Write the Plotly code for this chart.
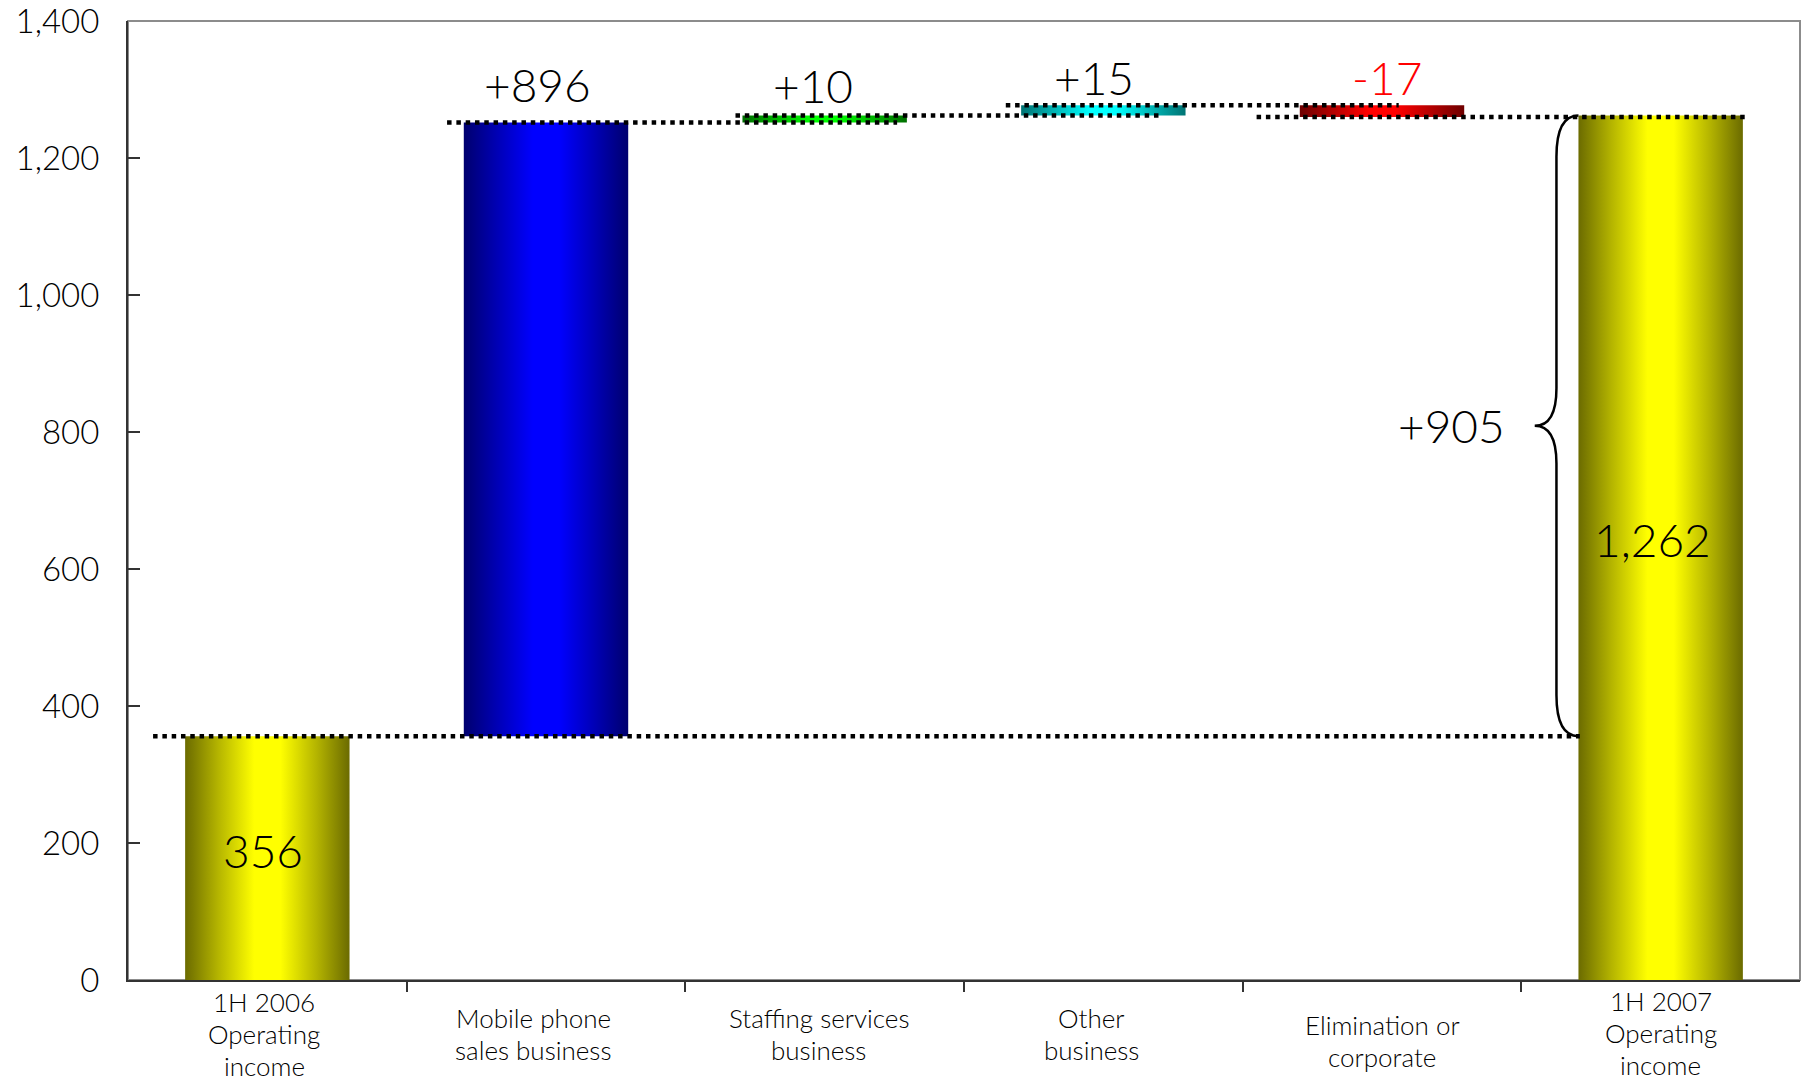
import plotly.graph_objects as go

# ---------------- data ----------------
category_lines = [
    ["1H 2006", "Operating", "income"],
    ["Mobile phone", "sales business"],
    ["Staffing services", "business"],
    ["Other", "business"],
    ["Elimination or", "corporate"],
    ["1H 2007", "Operating", "income"],
]
start_value = 356
deltas = [896, 10, 15, -17]
end_value = 1262
total_change = 905
delta_labels = ["+896", "+10", "+15", "-17"]
delta_label_colors = ["black", "black", "black", "red"]
start_label = "356"
end_label = "1,262"
change_label = "+905"
y_ticks = [0, 200, 400, 600, 800, 1000, 1200, 1400]

# ---------------- styling ----------------
FONT = "Lato, 'Open Sans', sans-serif"
BW = 0.59  # bar width in category units


def grad(dark, light):
    return [[0, dark], [0.2, light[1]], [0.42, light[0]], [0.5, light[0]],
            [0.58, light[0]], [0.8, light[1]], [1, dark]]


scales = [
    grad("#6b6b00", ("#ffff00", "#b4b400")),
    grad("#00006e", ("#0000ff", "#0000b4")),
    grad("#006e00", ("#00ff00", "#00b400")),
    grad("#007373", ("#00ffff", "#00b4b4")),
    grad("#6e0000", ("#ff0000", "#b40000")),
    grad("#6b6b00", ("#ffff00", "#b4b400")),
]

# ---------------- derived bar extents ----------------
bases, tops = [0], [start_value]
levels = [start_value]
cum = start_value
for d in deltas:
    new = cum + d
    bases.append(min(cum, new))
    tops.append(max(cum, new))
    cum = new
    levels.append(cum)
bases.append(0)
tops.append(end_value)

fig = go.Figure()
for i, (b, t) in enumerate(zip(bases, tops)):
    x0, x1 = i - BW / 2, i + BW / 2
    fig.add_trace(go.Scatter(
        x=[x0, x1, x1, x0, x0], y=[b, b, t, t, b],
        mode="lines", line=dict(width=0), fill="toself",
        fillgradient=dict(type="horizontal", colorscale=scales[i]),
        hoverinfo="skip", showlegend=False,
    ))

shapes = []
# plot border (grey)
shapes.append(dict(type="rect", xref="paper", yref="paper", x0=0, x1=1, y0=0, y1=1,
                   line=dict(color="#8c8c8c", width=2), layer="below"))

# dotted connectors
conn_extent = [(-0.41, 4.71), (0.645, 2.26), (1.68, 3.20), (2.65, 4.06), (3.55, 5.31)]
for lvl, (xa, xb) in zip(levels, conn_extent):
    shapes.append(dict(type="line", xref="x", yref="y", x0=xa, x1=xb, y0=lvl, y1=lvl,
                       line=dict(color="black", width=4.5, dash="4.5px,4.8px"), layer="above"))

# brace
xe = 5 - BW / 2
xm = xe - 0.079
xt = xe - 0.157
top, bot = end_value, start_value
mid = (top + bot) / 2
path = (f"M {xe},{top} Q {xm},{top} {xm},{top-60} L {xm},{mid+55} "
        f"Q {xm},{mid} {xt},{mid} Q {xm},{mid} {xm},{mid-55} "
        f"L {xm},{bot+60} Q {xm},{bot} {xe},{bot}")
shapes.append(dict(type="path", xref="x", yref="y", path=path,
                   line=dict(color="black", width=2.5), layer="above"))

annotations = []
# delta labels
label_offsets = [56, 44, 40, 40]
label_xshift = [-9, -12, -9, 5]
for i, (lab, col) in enumerate(zip(delta_labels, delta_label_colors)):
    annotations.append(dict(x=i + 1, y=tops[i + 1] + label_offsets[i], xref="x", yref="y",
                            text=lab, showarrow=False, xshift=label_xshift[i],
                            font=dict(size=46, color=col, family=FONT, weight=300),
                            yanchor="middle"))
annotations.append(dict(x=0, y=start_value * 0.53, xref="x", yref="y", text=start_label,
                        showarrow=False, xshift=-4,
                        font=dict(size=46, color="black", family=FONT, weight=300)))
annotations.append(dict(x=5, y=end_value * 0.51, xref="x", yref="y", text=end_label,
                        showarrow=False, xshift=-8,
                        font=dict(size=46, color="black", family=FONT, weight=300)))
annotations.append(dict(x=xt - 0.1, y=mid, xref="x", yref="y", text=change_label,
                        showarrow=False, xanchor="right",
                        font=dict(size=46, color="black", family=FONT, weight=300)))

# category labels (one annotation per line)
first_line = [22, 38, 38, 38, 45, 21]
label_x_shift = [-3, -13, -6, -12, 0, 0]
for i, lines in enumerate(category_lines):
    for k, line in enumerate(lines):
        annotations.append(dict(x=i, y=0, xref="x", yref="paper", text=line,
                                showarrow=False, yanchor="middle",
                                xshift=label_x_shift[i],
                                yshift=-(first_line[i] + k * 32),
                                font=dict(size=26, color="black", family=FONT, weight=300)))

fig.update_layout(
    width=1808, height=1081,
    margin=dict(l=128, r=8, t=21, b=101),
    paper_bgcolor="white", plot_bgcolor="white",
    shapes=shapes, annotations=annotations,
    font=dict(family=FONT, color="black"),
    xaxis=dict(range=[-0.5, 5.5], tickvals=[0.5, 1.5, 2.5, 3.5, 4.5], ticks="outside",
               ticklen=10, tickwidth=1.5, tickcolor="#333", showticklabels=False,
               showline=True, linecolor="#333", linewidth=2, showgrid=False, zeroline=False,
               fixedrange=True, automargin=False),
    yaxis=dict(range=[0, 1400], tickvals=y_ticks, tickformat=",d", ticks="inside",
               ticklen=12, tickwidth=1.5, tickcolor="#333", showline=True, linecolor="#333",
               linewidth=2, showgrid=False, zeroline=False,
               tickfont=dict(size=33, color="black", family=FONT, weight=300),
               ticklabelstandoff=20, ticklabeloverflow="allow", fixedrange=True,
               automargin=False),
    showlegend=False,
)

fig.write_html("out.html")
